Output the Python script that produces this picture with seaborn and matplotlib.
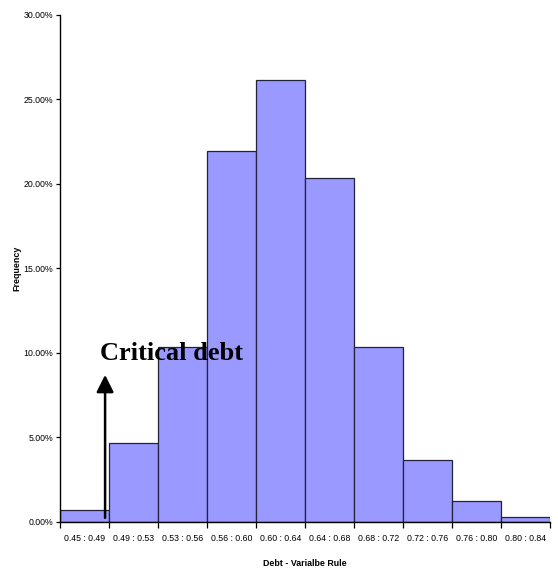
import matplotlib
matplotlib.use("Agg")
import matplotlib.pyplot as plt
from matplotlib.ticker import FuncFormatter, FixedLocator
import seaborn as sns
import numpy as np

# Debt-ratio bins and share of outcomes in each bin
categories = ["0.45 : 0.49", "0.49 : 0.53", "0.53 : 0.56", "0.56 : 0.60", "0.60 : 0.64",
              "0.64 : 0.68", "0.68 : 0.72", "0.72 : 0.76", "0.76 : 0.80", "0.80 : 0.84"]
frequency = [0.0070, 0.0467, 0.1035, 0.2195, 0.2615, 0.2037, 0.1035, 0.0367, 0.0126, 0.0026]
y_ticks = [0.0, 0.05, 0.10, 0.15, 0.20, 0.25, 0.30]

sns.set_style("white")
plt.rcParams["font.family"] = ["Liberation Sans Narrow", "Liberation Sans", "DejaVu Sans"]
plt.rcParams["text.color"] = "black"
plt.rcParams["xtick.color"] = "black"
plt.rcParams["ytick.color"] = "black"
plt.rcParams["axes.labelcolor"] = "black"

fig = plt.figure(figsize=(5.58, 5.76), dpi=100)
ax = fig.add_axes([0.1075, 0.094, 0.8785, 0.880])

sns.barplot(x=categories, y=frequency, color="#9999ff", saturation=1, width=1.0,
            edgecolor="#22223a", linewidth=0.9, ax=ax)

ax.set_xlim(-0.5, len(categories) - 0.5)
ax.set_ylim(0, 0.30)
ax.set_yticks(y_ticks)
ax.yaxis.set_major_formatter(FuncFormatter(lambda v, _: f"{v * 100:.2f}%"))

# category labels centred on bars, tick marks on bin edges
ax.xaxis.set_minor_locator(FixedLocator(np.arange(-0.5, len(categories), 1.0)))
ax.tick_params(axis="x", which="major", length=0, pad=9, labelsize=6.3)
ax.tick_params(axis="x", which="minor", length=4, width=0.9, color="black", direction="out", bottom=True)
ax.tick_params(axis="y", which="major", length=3, width=0.9, color="black", direction="out",
               left=True, labelsize=6.3, pad=2)

for side in ("top", "right"):
    ax.spines[side].set_visible(False)
for side in ("left", "bottom"):
    ax.spines[side].set_color("black")
    ax.spines[side].set_linewidth(1.0)

ax.set_xlabel("Debt - Varialbe Rule", fontsize=6.4, fontweight="bold", labelpad=11)
ax.set_ylabel("Frequency", fontsize=6.4, fontweight="bold")
ax.yaxis.set_label_coords(-0.078, 0.5)

# critical debt marker
ax.annotate("", xy=(0.42, 0.087), xytext=(0.42, 0.0024),
            arrowprops=dict(arrowstyle="-|>", color="black", lw=1.8,
                            mutation_scale=26, shrinkA=0, shrinkB=0))
ax.text(0.32, 0.0995, "Critical debt", fontsize=19, fontweight="bold", color="black",
        family=["Liberation Serif", "DejaVu Serif"], ha="left", va="center", zorder=5)

fig.savefig("out.png", dpi=100)
